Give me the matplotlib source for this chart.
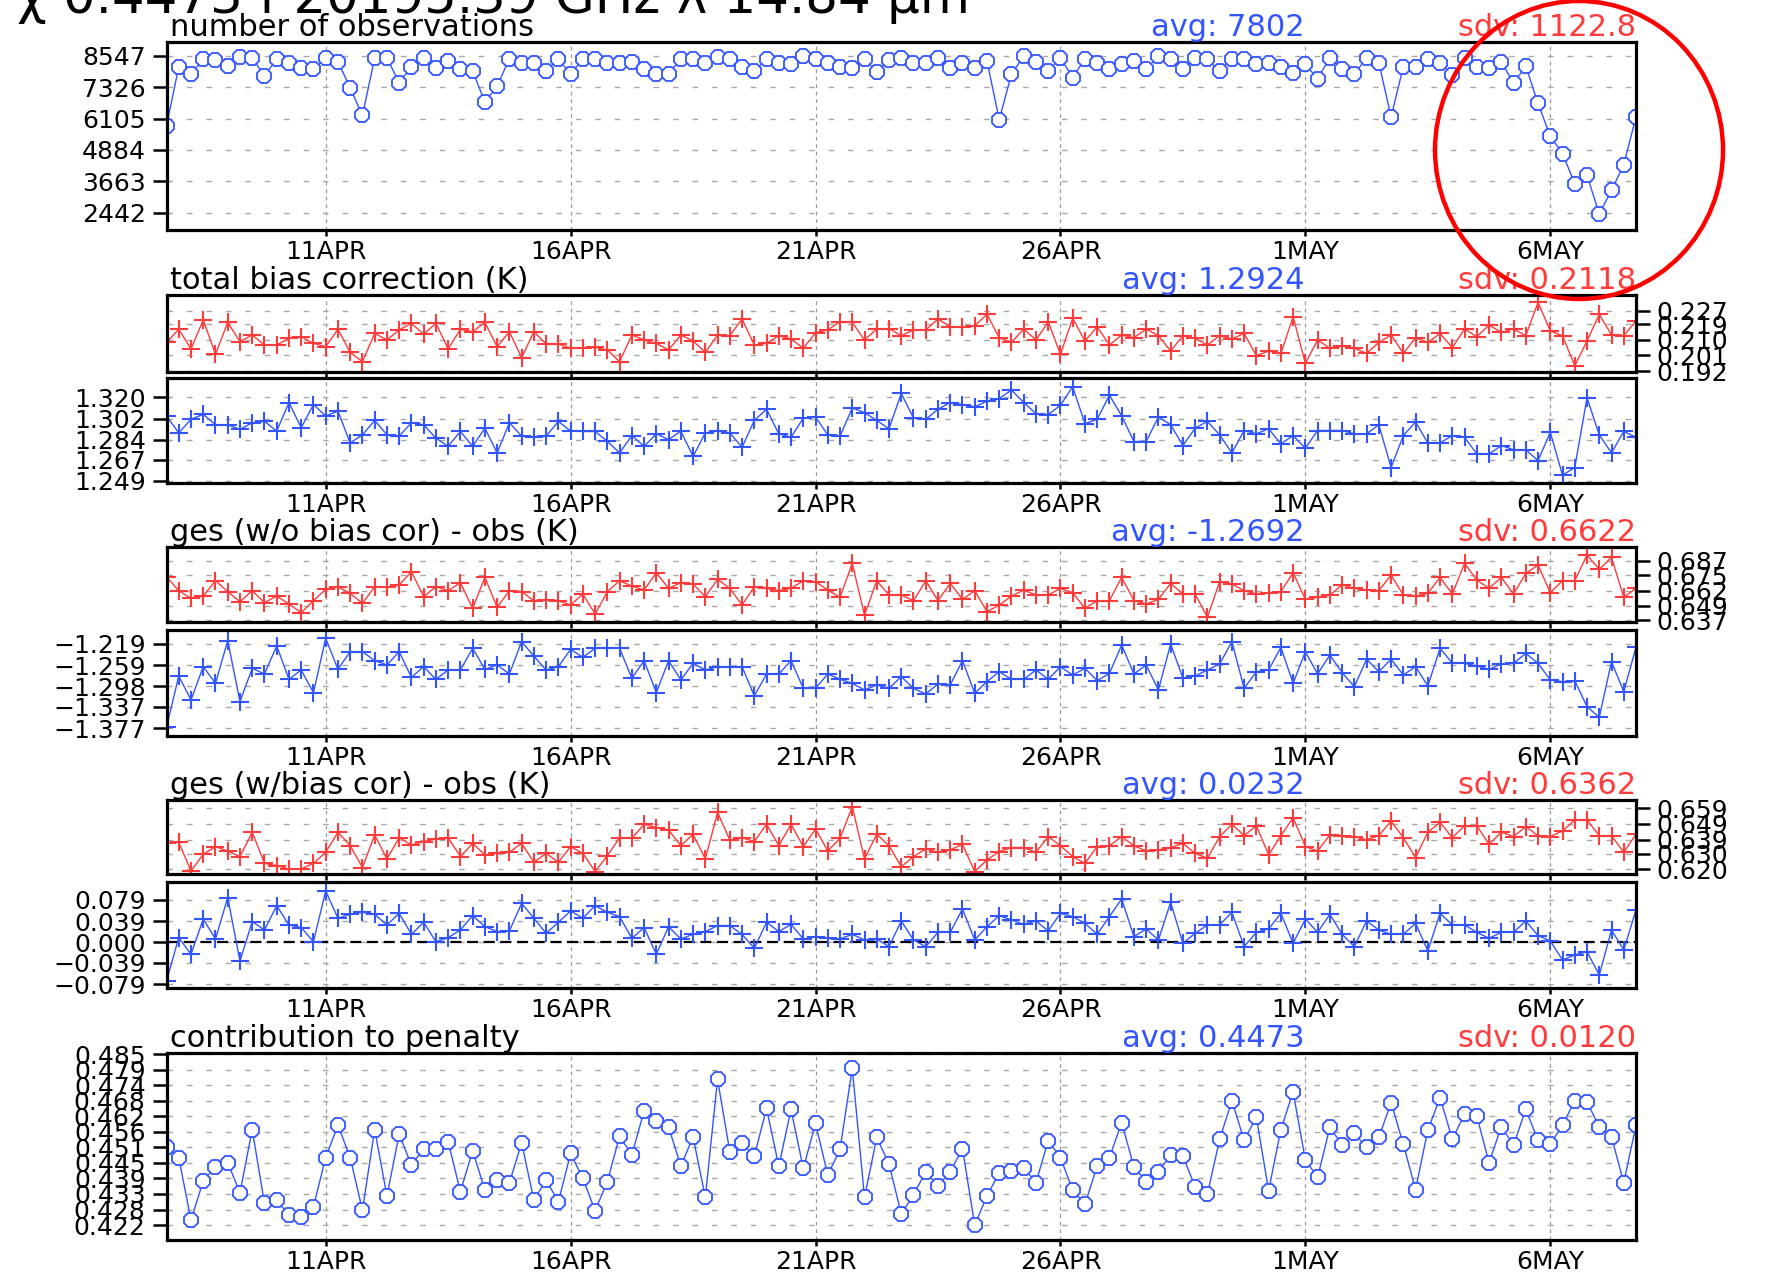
import matplotlib
matplotlib.use('Agg')
import matplotlib.pyplot as plt
import matplotlib.patches as mpatches
import numpy as np
import pandas as pd

plt.rcParams['font.family'] = 'DejaVu Sans'

BLUE = '#3355ff'
RED = '#ff3b3b'

# 6-hourly analysis times
times = pd.date_range('2014-04-07 18:00', '2014-05-07 18:00', freq='6h')
day_ticks = pd.to_datetime(['2014-04-11', '2014-04-16', '2014-04-21',
                            '2014-04-26', '2014-05-01', '2014-05-06'])
day_labels = ['11APR', '16APR', '21APR', '26APR', '1MAY', '6MAY']

# ---------------- data ----------------
n_obs = [
    5808, 8130, 7856, 8417, 8390, 8156, 8520, 8480, 7765, 8443,
    8286, 8090, 8025, 8480, 8325, 7308, 6226, 8470, 8470, 7504,
    8130, 8480, 8090, 8350, 8025, 7960, 6747, 7373, 8443, 8286,
    8260, 7960, 8443, 7830, 8443, 8443, 8286, 8286, 8312, 8025,
    7830, 7830, 8443, 8443, 8260, 8520, 8443, 8130, 7960, 8417,
    8286, 8221, 8547, 8443, 8286, 8130, 8090, 8443, 7921, 8400,
    8482, 8286, 8286, 8482, 8090, 8286, 8090, 8351, 6069, 7830,
    8547, 8325, 7960, 8482, 7700, 8443, 8286, 8025, 8221, 8351,
    8025, 8547, 8417, 8025, 8482, 8417, 7960, 8443, 8417, 8221,
    8286, 8130, 7895, 8221, 7660, 8482, 8051, 7830, 8482, 8286,
    6173, 8130, 8130, 8443, 8286, 7791, 8482, 8130, 8090, 8325,
    7478, 8156, 6695, 5417, 4739, 3566, 3891, 2392, 3304, 4309,
    6173]

bias_sdv = [
    0.2086, 0.2162, 0.2048, 0.2216, 0.2017, 0.2202, 0.2090, 0.2129, 0.2071, 0.2071,
    0.2109, 0.2119, 0.2080, 0.2061, 0.2162, 0.2028, 0.1974, 0.2138, 0.2100, 0.2158,
    0.2197, 0.2133, 0.2197, 0.2048, 0.2162, 0.2148, 0.2202, 0.2061, 0.2148, 0.1997,
    0.2148, 0.2077, 0.2077, 0.2052, 0.2052, 0.2057, 0.2042, 0.1974, 0.2129, 0.2100,
    0.2080, 0.2042, 0.2129, 0.2094, 0.2028, 0.2129, 0.2125, 0.2222, 0.2071, 0.2080,
    0.2125, 0.2106, 0.2052, 0.2142, 0.2158, 0.2206, 0.2202, 0.2100, 0.2164, 0.2166,
    0.2125, 0.2158, 0.2158, 0.2222, 0.2177, 0.2177, 0.2183, 0.2249, 0.2113, 0.2086,
    0.2164, 0.2100, 0.2206, 0.2017, 0.2226, 0.2094, 0.2177, 0.2071, 0.2129, 0.2113,
    0.2164, 0.2125, 0.2036, 0.2125, 0.2109, 0.2071, 0.2125, 0.2106, 0.2138, 0.2009,
    0.2036, 0.2022, 0.2235, 0.1964, 0.2100, 0.2052, 0.2067, 0.2052, 0.2022, 0.2086,
    0.2129, 0.2022, 0.2113, 0.2086, 0.2138, 0.2055, 0.2164, 0.2119, 0.2187, 0.2144,
    0.2164, 0.2125, 0.2318, 0.2152, 0.2125, 0.1951, 0.2094, 0.2249, 0.2129, 0.2125,
    0.2210]

bias_avg = [
    1.3043, 1.2899, 1.3014, 1.3057, 1.2968, 1.2968, 1.2928, 1.2985, 1.2997, 1.2914,
    1.3157, 1.2942, 1.3140, 1.3043, 1.3083, 1.2813, 1.2882, 1.3005, 1.2882, 1.2871,
    1.2985, 1.2968, 1.2854, 1.2785, 1.2911, 1.2785, 1.2939, 1.2728, 1.2985, 1.2871,
    1.2862, 1.2871, 1.2997, 1.2914, 1.2911, 1.2911, 1.2828, 1.2728, 1.2876, 1.2785,
    1.2891, 1.2842, 1.2914, 1.2699, 1.2899, 1.2914, 1.2899, 1.2776, 1.3005, 1.3100,
    1.2891, 1.2862, 1.3025, 1.3034, 1.2882, 1.2871, 1.3111, 1.3071, 1.3005, 1.2934,
    1.3234, 1.3025, 1.3014, 1.3100, 1.3157, 1.3140, 1.3120, 1.3169, 1.3191, 1.3263,
    1.3157, 1.3063, 1.3054, 1.3134, 1.3292, 1.2977, 1.3014, 1.3220, 1.3043, 1.2825,
    1.2825, 1.3034, 1.2968, 1.2791, 1.2939, 1.2997, 1.2882, 1.2728, 1.2919, 1.2891,
    1.2934, 1.2805, 1.2876, 1.2768, 1.2919, 1.2919, 1.2919, 1.2891, 1.2891, 1.2968,
    1.2604, 1.2876, 1.2991, 1.2813, 1.2813, 1.2876, 1.2862, 1.2719, 1.2719, 1.2791,
    1.2756, 1.2756, 1.2662, 1.2905, 1.2539, 1.2604, 1.3197, 1.2882, 1.2728, 1.2911,
    1.2862]

omf_nobc_sdv = [
    0.6737, 0.6619, 0.6554, 0.6573, 0.6703, 0.6610, 0.6525, 0.6619, 0.6517, 0.6573,
    0.6506, 0.6432, 0.6534, 0.6630, 0.6652, 0.6596, 0.6511, 0.6652, 0.6647, 0.6667,
    0.6780, 0.6568, 0.6652, 0.6619, 0.6686, 0.6469, 0.6732, 0.6477, 0.6619, 0.6610,
    0.6534, 0.6539, 0.6534, 0.6497, 0.6590, 0.6421, 0.6610, 0.6703, 0.6658, 0.6624,
    0.6771, 0.6638, 0.6686, 0.6675, 0.6568, 0.6715, 0.6638, 0.6497, 0.6652, 0.6638,
    0.6619, 0.6638, 0.6703, 0.6695, 0.6624, 0.6562, 0.6850, 0.6412, 0.6703, 0.6582,
    0.6582, 0.6534, 0.6703, 0.6534, 0.6681, 0.6545, 0.6619, 0.6441, 0.6497, 0.6573,
    0.6624, 0.6582, 0.6582, 0.6638, 0.6602, 0.6469, 0.6534, 0.6534, 0.6732, 0.6534,
    0.6506, 0.6545, 0.6681, 0.6590, 0.6590, 0.6393, 0.6695, 0.6675, 0.6619, 0.6590,
    0.6602, 0.6610, 0.6771, 0.6545, 0.6562, 0.6582, 0.6667, 0.6638, 0.6624, 0.6619,
    0.6751, 0.6582, 0.6573, 0.6596, 0.6732, 0.6590, 0.6850, 0.6709, 0.6638, 0.6732,
    0.6590, 0.6765, 0.6836, 0.6602, 0.6703, 0.6703, 0.6921, 0.6799, 0.6901, 0.6562,
    0.6638]

omf_nobc_avg = [
    -1.3751, -1.2790, -1.3239, -1.2615, -1.2927, -1.2128, -1.3270, -1.2646, -1.2752, -1.2227,
    -1.2852, -1.2677, -1.3102, -1.2084, -1.2665, -1.2334, -1.2334, -1.2502, -1.2583, -1.2334,
    -1.2815, -1.2615, -1.2852, -1.2677, -1.2677, -1.2271, -1.2665, -1.2583, -1.2752, -1.2146,
    -1.2415, -1.2677, -1.2615, -1.2290, -1.2440, -1.2271, -1.2271, -1.2271, -1.2833, -1.2502,
    -1.3102, -1.2502, -1.2864, -1.2552, -1.2677, -1.2615, -1.2615, -1.2615, -1.3164, -1.2752,
    -1.2752, -1.2502, -1.3021, -1.3021, -1.2752, -1.2852, -1.2927, -1.3052, -1.2958, -1.3021,
    -1.2802, -1.3021, -1.3127, -1.2939, -1.2958, -1.2502, -1.3114, -1.2896, -1.2708, -1.2852,
    -1.2852, -1.2677, -1.2852, -1.2615, -1.2771, -1.2646, -1.2877, -1.2740, -1.2209, -1.2752,
    -1.2583, -1.3052, -1.2190, -1.2833, -1.2790, -1.2677, -1.2565, -1.2146, -1.3021, -1.2708,
    -1.2677, -1.2252, -1.2927, -1.2334, -1.2752, -1.2396, -1.2727, -1.2989, -1.2477, -1.2708,
    -1.2477, -1.2771, -1.2615, -1.2977, -1.2271, -1.2552, -1.2552, -1.2602, -1.2665, -1.2565,
    -1.2552, -1.2365, -1.2552, -1.2864, -1.2896, -1.2877, -1.3364, -1.3564, -1.2521, -1.3083,
    -1.2252]

omf_bc_sdv = [
    0.6366, 0.6373, 0.6189, 0.6296, 0.6345, 0.6317, 0.6281, 0.6437, 0.6238, 0.6223,
    0.6202, 0.6202, 0.6238, 0.6309, 0.6437, 0.6351, 0.6211, 0.6420, 0.6266, 0.6402,
    0.6356, 0.6377, 0.6394, 0.6402, 0.6281, 0.6366, 0.6292, 0.6302, 0.6309, 0.6366,
    0.6245, 0.6302, 0.6245, 0.6345, 0.6302, 0.6185, 0.6287, 0.6402, 0.6398, 0.6488,
    0.6466, 0.6451, 0.6351, 0.6424, 0.6266, 0.6564, 0.6388, 0.6402, 0.6377, 0.6488,
    0.6351, 0.6488, 0.6345, 0.6458, 0.6317, 0.6398, 0.6601, 0.6266, 0.6424, 0.6351,
    0.6217, 0.6281, 0.6330, 0.6309, 0.6324, 0.6360, 0.6185, 0.6260, 0.6313, 0.6339,
    0.6339, 0.6309, 0.6409, 0.6351, 0.6281, 0.6238, 0.6345, 0.6351, 0.6409, 0.6351,
    0.6317, 0.6324, 0.6339, 0.6366, 0.6302, 0.6270, 0.6409, 0.6488, 0.6415, 0.6479,
    0.6292, 0.6415, 0.6530, 0.6345, 0.6317, 0.6420, 0.6415, 0.6409, 0.6388, 0.6415,
    0.6509, 0.6402, 0.6275, 0.6437, 0.6500, 0.6402, 0.6479, 0.6479, 0.6360, 0.6437,
    0.6409, 0.6473, 0.6415, 0.6409, 0.6445, 0.6515, 0.6515, 0.6415, 0.6415, 0.6309,
    0.6424]

omf_bc_avg = [
    -0.0728, 0.0084, -0.0228, 0.0434, 0.0059, 0.0834, -0.0353, 0.0384, 0.0228, 0.0684,
    0.0322, 0.0272, 0.0009, 0.0959, 0.0447, 0.0521, 0.0559, 0.0521, 0.0322, 0.0540,
    0.0147, 0.0372, 0.0009, 0.0084, 0.0228, 0.0496, 0.0290, 0.0197, 0.0209, 0.0728,
    0.0447, 0.0166, 0.0372, 0.0584, 0.0447, 0.0684, 0.0559, 0.0478, 0.0072, 0.0272,
    -0.0228, 0.0290, 0.0059, 0.0147, 0.0197, 0.0309, 0.0309, 0.0147, -0.0116, 0.0372,
    0.0197, 0.0334, 0.0059, 0.0103, 0.0072, 0.0059, 0.0147, 0.0041, 0.0059, -0.0084,
    0.0397, 0.0041, -0.0084, 0.0184, 0.0184, 0.0621, 0.0041, 0.0290, 0.0496, 0.0415,
    0.0334, 0.0397, 0.0209, 0.0540, 0.0478, 0.0353, 0.0147, 0.0478, 0.0809, 0.0103,
    0.0247, 0.0041, 0.0746, -0.0022, 0.0166, 0.0322, 0.0322, 0.0559, -0.0084, 0.0184,
    0.0247, 0.0540, -0.0022, 0.0434, 0.0184, 0.0521, 0.0147, -0.0084, 0.0397, 0.0228,
    0.0147, 0.0147, 0.0353, -0.0165, 0.0540, 0.0322, 0.0322, 0.0184, 0.0072, 0.0184,
    0.0184, 0.0397, 0.0122, 0.0022, -0.0334, -0.0240, -0.0178, -0.0615, 0.0228, -0.0147,
    0.0603]

penalty = [
    0.4509, 0.4469, 0.4238, 0.4383, 0.4435, 0.4450, 0.4339, 0.4572, 0.4300, 0.4312,
    0.4257, 0.4251, 0.4288, 0.4469, 0.4588, 0.4469, 0.4275, 0.4572, 0.4327, 0.4555,
    0.4441, 0.4502, 0.4499, 0.4527, 0.4343, 0.4494, 0.4349, 0.4386, 0.4376, 0.4523,
    0.4312, 0.4386, 0.4306, 0.4484, 0.4392, 0.4273, 0.4380, 0.4548, 0.4478, 0.4641,
    0.4604, 0.4582, 0.4437, 0.4545, 0.4322, 0.4757, 0.4490, 0.4521, 0.4474, 0.4650,
    0.4437, 0.4646, 0.4429, 0.4595, 0.4404, 0.4499, 0.4797, 0.4322, 0.4543, 0.4445,
    0.4261, 0.4331, 0.4417, 0.4364, 0.4417, 0.4502, 0.4220, 0.4327, 0.4413, 0.4420,
    0.4432, 0.4376, 0.4531, 0.4469, 0.4349, 0.4297, 0.4437, 0.4469, 0.4597, 0.4435,
    0.4380, 0.4417, 0.4478, 0.4474, 0.4361, 0.4334, 0.4536, 0.4678, 0.4533, 0.4617,
    0.4347, 0.4572, 0.4711, 0.4460, 0.4396, 0.4580, 0.4515, 0.4558, 0.4506, 0.4543,
    0.4671, 0.4518, 0.4351, 0.4570, 0.4690, 0.4536, 0.4629, 0.4622, 0.4450, 0.4582,
    0.4515, 0.4646, 0.4533, 0.4518, 0.4588, 0.4678, 0.4674, 0.4582, 0.4545, 0.4376,
    0.4588]

# axis ticks shown on each panel
obs_ticks = [2442, 3663, 4884, 6105, 7326, 8547]
bias_sdv_ticks = [0.192, 0.201, 0.210, 0.219, 0.227]
bias_avg_ticks = [1.249, 1.267, 1.284, 1.302, 1.320]
nobc_sdv_ticks = [0.637, 0.649, 0.662, 0.675, 0.687]
nobc_avg_ticks = [-1.377, -1.337, -1.298, -1.259, -1.219]
bc_sdv_ticks = [0.620, 0.630, 0.639, 0.649, 0.659]
bc_avg_ticks = [-0.079, -0.039, 0.000, 0.039, 0.079]
pen_ticks = np.linspace(0.422, 0.485, 12)

# ---------------- layout ----------------
FIG_W, FIG_H = 1768, 1275
X0, X1 = 166.5, 1636

fig = plt.figure(figsize=(FIG_W / 100, FIG_H / 100), dpi=100)


def add_panel(top, bottom):
    return fig.add_axes([X0 / FIG_W, 1 - bottom / FIG_H,
                         (X1 - X0) / FIG_W, (bottom - top) / FIG_H])


def style(ax, ticks, ylim, fmt, side='left', xlabels=True):
    ax.set_xlim(times[0], times[-1])
    ax.set_ylim(*ylim)
    ax.set_xticks(day_ticks)
    ax.set_xticklabels(day_labels if xlabels else [])
    ax.set_yticks(ticks)
    ax.set_yticklabels([(fmt % t).replace('-', '\u2212') for t in ticks])
    if side == 'right':
        ax.yaxis.tick_right()
    ax.tick_params(axis='y', direction='out', length=10, width=1.8,
                   labelsize=18, pad=5)
    ax.tick_params(axis='x', direction='out', length=4, width=1.8,
                   labelsize=18, pad=3)
    for s in ax.spines.values():
        s.set_linewidth(2.3)
    ax.grid(axis='y', color='#a8a8a8', linestyle=(0, (4, 10)), linewidth=1.0)
    ax.grid(axis='x', color='#9a9a9a', linestyle=(0, (3, 3)), linewidth=0.9)
    ax.set_axisbelow(True)


def header(ax, title, avg, sdv):
    kw = dict(xycoords='axes fraction', textcoords='offset pixels',
              fontsize=22, va='baseline')
    ax.annotate(title, xy=(0, 1), xytext=(3, 6), ha='left', **kw)
    ax.annotate(avg, xy=(0.7744, 1), xytext=(0, 6), ha='right', color=BLUE, **kw)
    ax.annotate(sdv, xy=(1, 1), xytext=(0, 6), ha='right', color=RED, **kw)


def hexes(ax, y):
    ax.plot(times, y, color=BLUE, lw=1.0, marker='8', ms=11,
            mfc='white', mec=BLUE, mew=1.3)


def pluses(ax, y, color):
    ax.plot(times, y, color=color, lw=1.0, marker='+', ms=13, mew=1.5)


fig.text(17 / FIG_W, 1 - 13 / FIG_H, 'χ 0.4473 f 20195.39 GHz λ 14.84 μm',
         fontsize=37, ha='left', va='baseline')

# number of observations
ax = add_panel(42.3, 230)
hexes(ax, n_obs)
style(ax, obs_ticks, (1760, 9080), '%d')
header(ax, 'number of observations', 'avg: 7802', 'sdv: 1122.8')

# total bias correction
ax = add_panel(295, 371.7)
pluses(ax, bias_sdv, RED)
style(ax, bias_sdv_ticks, (0.1916, 0.2361), '%.3f', side='right', xlabels=False)
header(ax, 'total bias correction (K)', 'avg: 1.2924', 'sdv: 0.2118')
ax = add_panel(378.3, 483.3)
pluses(ax, bias_avg, BLUE)
style(ax, bias_avg_ticks, (1.247, 1.3363), '%.3f')

# guess minus obs without bias correction
ax = add_panel(547.3, 621.7)
pluses(ax, omf_nobc_sdv, RED)
style(ax, nobc_sdv_ticks, (0.6356, 0.6986), '%.3f', side='right', xlabels=False)
header(ax, 'ges (w/o bias cor) - obs (K)', 'avg: -1.2692', 'sdv: 0.6622')
ax = add_panel(630, 736)
pluses(ax, omf_nobc_avg, BLUE)
style(ax, nobc_avg_ticks, (-1.3914, -1.1928), '%.3f')

# guess minus obs with bias correction
ax = add_panel(800, 874.3)
pluses(ax, omf_bc_sdv, RED)
style(ax, bc_sdv_ticks, (0.6168, 0.6643), '%.3f', side='right', xlabels=False)
header(ax, 'ges (w/bias cor) - obs (K)', 'avg: 0.0232', 'sdv: 0.6362')
ax = add_panel(882.3, 988.3)
ax.axhline(0, color='black', lw=1.6, ls=(0, (5, 2.5)), zorder=1.5)
pluses(ax, omf_bc_avg, BLUE)
style(ax, bc_avg_ticks, (-0.0865, 0.1121), '%.3f')

# contribution to penalty
ax = add_panel(1053.3, 1240)
hexes(ax, penalty)
style(ax, pen_ticks, (0.4165, 0.4853), '%.3f')
header(ax, 'contribution to penalty', 'avg: 0.4473', 'sdv: 0.0120')

# red ring drawn over the last days of the observation count
ring = mpatches.Ellipse((1579 / FIG_W, 1 - 150 / FIG_H), 288 / FIG_W, 298 / FIG_H,
                        transform=fig.transFigure, fill=False,
                        edgecolor='#ff0000', linewidth=3.2, zorder=20)
fig.add_artist(ring)

fig.savefig('out.png', dpi=100)
